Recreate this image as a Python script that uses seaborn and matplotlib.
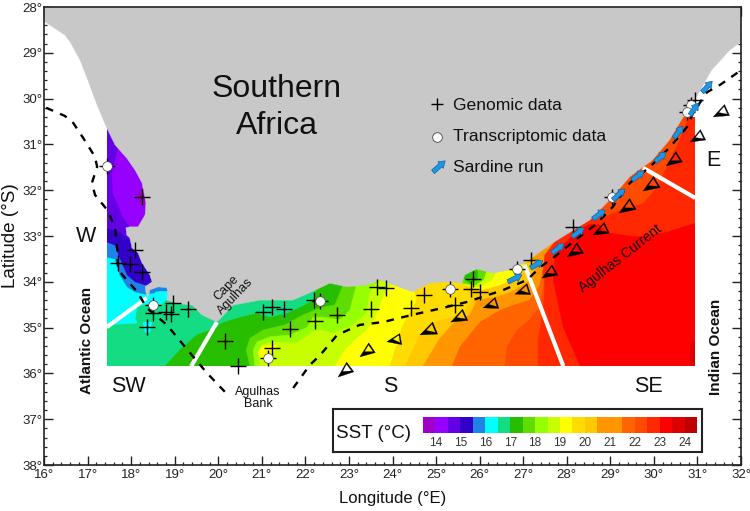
import numpy as np
import pandas as pd
import matplotlib
matplotlib.use("Agg")
import matplotlib.pyplot as plt
import seaborn as sns
from matplotlib.colors import ListedColormap
from matplotlib.patches import Polygon, PathPatch, Rectangle, FancyArrow
from matplotlib.path import Path
from matplotlib.ticker import MultipleLocator, FuncFormatter

SST_COLORS = ['#A000C8', '#9600FF', '#6400E6', '#3200C8', '#1E82E6', '#00FFFF', '#14DC82', '#28BE00',
              '#5FDC00', '#96FF00', '#C8FF00', '#FFFF00', '#FFDC00', '#FFC800', '#FF9600', '#F07800',
              '#FF6400', '#FF4B00', '#FF2800', '#FF0000', '#DC0000', '#BE0000']
SST_LOWER = [13.5, 14, 14.5, 15, 15.5, 16, 16.5, 17, 17.5, 18, 18.5, 19, 19.5, 20, 20.5, 21, 21.5, 22, 22.5, 23, 23.5, 24]
SST_LABELS = ['14', '15', '16', '17', '18', '19', '20', '21', '22', '23', '24']

FIELD_W, FIELD_E, FIELD_S, FIELD_N = 17.44, 30.95, 35.84, 30.4

COAST = [(16.00,28.31),(16.48,28.61),(16.60,28.76),(16.83,29.16),(16.99,29.55),(17.22,30.14),(17.45,30.66),
         (17.63,31.01),(17.90,31.30),(18.09,31.56),(18.25,31.84),(18.34,32.28),(18.32,32.54),(18.16,32.80),
         (17.97,32.80),(17.88,32.82),(17.90,32.98),(17.97,33.04),(18.02,33.26),(18.16,33.37),(18.25,33.59),
         (18.43,33.85),(18.48,34.00),(18.32,34.11),(18.34,34.24),(18.39,34.35),(18.43,34.18),(18.62,34.11),
         (18.82,34.13),(18.84,34.24),(18.82,34.40),(19.12,34.48),(19.40,34.51),(19.62,34.72),(19.97,34.88),
         (20.34,34.51),(20.96,34.40),(21.71,34.40),(22.10,34.24),(22.56,34.03),(22.95,34.11),(23.41,34.07),
         (23.71,33.96),(24.46,34.22),(24.85,34.03),(25.24,34.00),(25.59,34.03),(25.66,33.85),(25.93,33.72),
         (26.30,33.81),(26.69,33.74),(27.03,33.59),(27.19,33.48),(27.68,33.15),(28.53,32.65),(29.05,32.15),
         (29.44,31.71),(29.97,31.34),(30.36,30.90),(30.66,30.42),(30.98,29.96),(31.32,29.38),(31.74,28.94),
         (32.00,28.76),(32.00,28.00),(16.00,28.00)]

# closed SST patches: (band index, outline)
WEST_PATCHES = [
    (5, [(17.44,34.94),(18.14,34.90),(18.09,34.79),(18.14,34.55),(18.36,34.48),(18.59,34.57),(18.73,34.46),
         (18.89,34.33),(18.89,34.07),(18.4,33.1),(17.44,33.1)]),
    (5, [(18.27,34.88),(18.48,34.88),(18.43,35.10),(18.32,35.10)]),
    (4, [(17.44,33.46),(17.63,33.50),(17.74,33.85),(17.91,34.11),(18.09,34.22),(18.32,34.27),(18.55,34.24),
         (18.43,33.09),(17.44,33.09)]),
    (4, [(18.43,34.09),(18.89,34.09),(18.89,34.20),(18.66,34.20),(18.43,34.22)]),
    (3, [(17.44,33.13),(17.63,33.20),(17.74,33.48),(17.91,33.85),(18.09,34.00),(18.32,34.07),(18.66,34.07),
         (18.66,32.76),(17.44,32.82)]),
    (2, [(17.44,32.82),(17.74,32.91),(17.97,33.09),(18.20,33.41),(18.48,33.74),(18.78,33.74),(18.78,30.47),(17.44,30.47)]),
    (1, [(17.68,30.97),(17.70,31.08),(17.56,31.62),(17.58,32.06),(17.81,32.58),(17.97,32.80),(18.43,32.80),(18.43,31.34),(17.86,30.97)]),
    (0, [(18.25,31.95),(18.14,32.10),(18.18,32.28),(18.34,32.37),(18.39,32.00)]),
]

# band limits running from the southern edge to the coast; each band fills the sea east of its limit
LIMIT_8 = [(18.78,35.84),(19.12,35.49),(19.51,35.16),(19.97,34.99),(20.15,34.83),(20.96,34.30)]
TEAL_COAST = [(19.58,34.79),(19.58,35.12),(19.97,34.99),(20.04,34.90),(20.50,34.77),(20.89,34.68),(21.19,34.77),
              (21.58,34.68),(21.88,34.55),(22.18,34.40),(22.24,34.18),(21.65,34.18),(19.58,34.40)]
LIMIT_9 = [(20.73,35.84),(20.64,35.49),(20.73,35.23),(21.03,35.05),(21.53,34.94),(21.95,34.72),(22.34,34.57),
           (22.68,34.50),(22.79,34.24),(22.91,33.96)]
LIMIT_10 = [(20.84,35.84),(20.80,35.49),(20.89,35.31),(21.19,35.20),(21.65,35.16),(22.04,34.99),(22.18,34.77),
            (22.41,34.77),(22.79,34.83),(23.02,34.62),(23.14,34.18),(23.18,34.00)]
LIMIT_11 = [(20.96,35.84),(20.91,35.55),(21.03,35.38),(21.23,35.31),(21.81,35.33),(22.18,35.09),(22.34,35.05),
            (22.63,35.12),(23.02,34.99),(23.41,34.68),(23.48,34.24),(23.64,34.03)]
LIMIT_12 = [(22.68,35.84),(22.91,35.49),(23.14,35.27),(23.37,35.09),(23.60,34.79),(23.78,34.35),(23.99,34.05)]
BLOB_12 = [(21.00,35.40),(20.91,35.55),(21.00,35.71),(21.23,35.62),(21.35,35.38)]
LIMIT_13 = [(23.94,35.84),(24.24,34.94),(24.56,34.40),(24.46,34.07)]
LIMIT_14 = [(24.29,35.84),(24.63,35.16),(24.98,34.88),(25.32,34.79),(25.67,34.62),(25.85,34.29),(25.78,33.96)]
LIMIT_15 = [(24.70,35.84),(25.09,35.23),(25.43,34.88),(25.78,34.72),(25.94,34.40),(26.08,34.13),(26.24,33.96),(26.47,33.52)]
COAST_COOL = [
    (13, [(25.59,34.03),(25.89,34.40),(26.35,34.33),(26.81,34.18),(27.15,33.96),(27.33,33.57),(25.59,33.57)]),
    (11, [(25.66,34.07),(26.01,34.18),(26.47,34.07),(26.81,33.92),(27.03,33.70),(26.92,33.41),(25.66,33.41)]),
    (10, [(25.62,34.07),(26.01,34.11),(26.28,33.96),(26.40,33.74),(26.24,33.52),(25.62,33.57)]),
    (8, [(25.62,34.03),(25.89,34.07),(26.08,33.96),(26.17,33.74),(25.89,33.57),(25.62,33.70)]),
    (7, [(25.62,33.92),(25.78,34.03),(25.94,33.96),(25.96,33.79),(25.78,33.63),(25.62,33.74)]),
]
LIMIT_17 = [(25.37,35.84),(25.55,35.42),(26.01,34.88),(26.47,34.62),(26.81,34.50),(27.15,34.40),(27.38,34.07),(27.50,33.52),(27.84,33.09)]
LIMIT_18 = [(26.58,35.84),(26.63,35.42),(26.86,35.05),(27.15,34.83),(27.38,34.55),(27.45,34.18),(27.57,33.74),(27.84,33.20)]
LIMIT_19 = [(27.34,35.84),(27.34,35.27),(27.45,34.68),(27.50,34.11),(27.45,33.81),(27.50,33.41)]
RED_AREA = [(28.31,35.84),(27.92,34.99),(27.69,33.96),(27.73,33.41),(28.19,32.91),(28.53,32.74),(28.76,32.76),
            (28.92,32.93),(29.61,33.02),(30.25,32.93),(30.95,32.72),(30.95,35.84)]
DARK_RED_AREA = [(30.83,35.84),(30.85,35.38),(30.95,35.27),(30.95,35.84)]
WARM_POCKET = [(28.69,32.65),(29.22,32.43),(29.75,32.28),(30.07,31.93),(30.60,30.86),(30.83,30.31),(30.83,30.03),(28.53,32.21)]

DIVIDERS = [((17.44,34.99),(18.36,34.35)), ((19.38,35.84),(19.97,34.88)), ((27.03,33.63),(27.92,35.84)), ((29.75,31.51),(30.95,32.17))]

GENOMIC_LON = [18.25,18.09,17.70,17.97,18.25,18.96,19.31,18.80,18.92,18.50,18.36,20.15,20.45,21.03,21.23,21.51,22.20,
               22.73,22.22,21.65,21.23,23.51,23.65,23.85,24.43,24.72,25.43,25.80,25.85,26.01,27.19,28.14,30.95]
GENOMIC_LAT = [32.15,33.30,33.59,33.61,33.79,34.46,34.59,34.66,34.70,34.68,34.99,35.29,35.84,34.66,34.55,34.59,34.40,
               34.72,34.85,35.03,35.44,34.59,34.11,34.13,34.57,34.29,34.50,34.16,33.94,34.22,33.52,32.80,30.03]
TRANS_LON = [17.45,18.50,21.14,22.33,25.31,26.86,29.05,30.85,30.76]
TRANS_LAT = [31.47,34.51,35.66,34.42,34.16,33.72,32.15,30.14,30.29]

ROUTE_W_LON = [16.05,16.48,16.67,16.90,17.17,17.22,17.10,17.17,17.45,17.63,17.68,17.70,18.14,18.36,18.82,19.35,19.74,20.15]
ROUTE_W_LAT = [30.20,30.38,30.53,30.86,31.27,31.49,31.84,32.10,32.43,32.80,33.24,33.74,34.22,34.57,34.94,35.55,35.99,36.40]
ROUTE_E_LON = [21.72,22.10,22.34,22.73,23.25,23.78,24.46,25.16,25.71,26.54,27.09,27.39,27.78,28.14,28.65,29.05,29.45,29.91,30.37,30.76,30.90,31.22,31.52,32.00]
ROUTE_E_LAT = [36.32,35.82,35.60,35.16,34.94,34.88,34.72,34.57,34.44,34.18,33.96,33.68,33.41,33.13,32.76,32.37,31.84,31.49,31.06,30.62,30.31,29.86,29.70,29.38]

CURRENT_TIP = [(22.75,36.08),(23.25,35.64),(23.87,35.31),(24.63,35.16),(25.34,34.88),(26.08,34.57),(26.81,34.27),(27.43,33.92),
               (28.01,33.46),(28.60,32.98),(29.20,32.50),(29.75,32.02),(30.28,31.47),(30.83,30.95),(31.36,30.40)]
CURRENT_TAIL = [(23.03,35.86),(23.53,35.44),(24.19,35.25),(24.98,35.01),(25.67,34.72),(26.40,34.46),(27.13,34.16),(27.73,33.74),
                (28.31,33.26),(28.92,32.82),(29.52,32.30),(30.07,31.82),(30.58,31.27),(31.13,30.79),(31.68,30.25)]
SARDINE_FROM = [(26.65,34.00),(27.17,33.70),(27.66,33.37),(28.12,33.02),(28.60,32.63),(29.06,32.21),(29.50,31.78),(30.03,31.38),(30.46,30.86),(30.83,30.36),(31.11,29.86)]
SARDINE_TO = [(26.97,33.85),(27.45,33.54),(27.94,33.17),(28.40,32.82),(28.88,32.43),(29.34,31.97),(29.78,31.58),(30.28,31.17),(30.67,30.60),(31.02,30.10),(31.34,29.62)]

KEY_CROSS = (25.02, 30.12)
KEY_CIRCLE = (25.02, 30.84)
KEY_ARROW = ((24.93, 31.60), (25.21, 31.36))

sns.set_style("ticks")
plt.rcParams['font.family'] = ['Liberation Sans', 'DejaVu Sans']
W, H = 750, 511
fig = plt.figure(figsize=(W / 100, H / 100), dpi=100)
ax = fig.add_axes([44 / W, 1 - 465 / H, 697 / W, 458 / H])
ax.set_xlim(16, 32)
ax.set_ylim(38, 28)

clip = Rectangle((FIELD_W, FIELD_N), FIELD_E - FIELD_W, FIELD_S - FIELD_N, transform=ax.transData)


def band(idx, pts, z=1):
    p = Polygon(pts, closed=True, fc=SST_COLORS[idx], ec=SST_COLORS[idx], lw=0.3, zorder=z)
    ax.add_patch(p)
    p.set_clip_path(clip)


def east_of(idx, limit):
    band(idx, list(limit) + [(31.0, 29.0), (31.0, FIELD_S)])


band(6, [(FIELD_W, FIELD_N), (FIELD_E, FIELD_N), (FIELD_E, FIELD_S), (FIELD_W, FIELD_S)])
for idx, pts in WEST_PATCHES:
    band(idx, pts)
east_of(7, LIMIT_8)
band(6, TEAL_COAST)
east_of(8, LIMIT_9)
east_of(9, LIMIT_10)
east_of(10, LIMIT_11)
east_of(11, LIMIT_12)
band(11, BLOB_12)
east_of(12, LIMIT_13)
east_of(13, LIMIT_14)
east_of(14, LIMIT_15)
for idx, pts in COAST_COOL:
    band(idx, pts)
east_of(16, LIMIT_17)
east_of(17, LIMIT_18)
east_of(18, LIMIT_19)
band(19, RED_AREA)
band(20, DARK_RED_AREA)
band(17, WARM_POCKET)

for a, b in DIVIDERS:
    ax.plot([a[0], b[0]], [a[1], b[1]], color='white', lw=3.0, solid_capstyle='butt', zorder=2)

ax.add_patch(Polygon(COAST, closed=True, fc='#C8C8C8', ec='#C8C8C8', lw=0.3, zorder=3))

# current route
for lons, lats in ((ROUTE_W_LON, ROUTE_W_LAT), (ROUTE_E_LON, ROUTE_E_LAT)):
    sns.lineplot(x=lons, y=lats, sort=False, estimator=None, color='black', lw=1.7,
                 linestyle=(0, (3.2, 3.2)), ax=ax, zorder=4, legend=False)
ax.set_xlim(16, 32)
ax.set_ylim(38, 28)


def signed_area(p, q, r):
    return (q[0] - p[0]) * (r[1] - p[1]) - (q[1] - p[1]) * (r[0] - p[0])


def open_arrow(tip, tail):
    t = np.array(tip)
    c = np.array(tail)
    d = t - c
    n = np.array([-d[1], d[0]]) * 0.38
    a, b = c + n, c - n
    if a[1] > b[1]:
        a, b = b, a  # a = northern corner
    inner = [0.84 * a + 0.08 * b + 0.08 * t, 0.34 * a + 0.10 * b + 0.56 * t, 0.14 * a + 0.78 * b + 0.08 * t]
    if np.sign(signed_area(t, a, b)) == np.sign(signed_area(*inner)):
        inner = inner[::-1]
    verts = [t, a, b, t] + inner + [inner[0]]
    codes = [Path.MOVETO, Path.LINETO, Path.LINETO, Path.CLOSEPOLY, Path.MOVETO, Path.LINETO, Path.LINETO, Path.CLOSEPOLY]
    ax.add_patch(PathPatch(Path(verts, codes), fc='black', ec='black', lw=0.2, zorder=5))


for tip, tail in zip(CURRENT_TIP, CURRENT_TAIL):
    open_arrow(tip, tail)


def blue_arrow(a, b):
    ax.add_patch(FancyArrow(a[0], a[1], b[0] - a[0], b[1] - a[1], width=0.10, head_width=0.19, head_length=0.14,
                            length_includes_head=True, fc='#1E96E6', ec='#1464A0', lw=0.5, zorder=7))


for a, b in zip(SARDINE_FROM, SARDINE_TO):
    blue_arrow(a, b)
blue_arrow(*KEY_ARROW)

# sampling sites
sites = pd.DataFrame({'lon': GENOMIC_LON + TRANS_LON, 'lat': GENOMIC_LAT + TRANS_LAT})
sns.scatterplot(data=sites, x='lon', y='lat', marker='+', s=125, color='black', linewidth=1.0, ax=ax, zorder=6, legend=False)
sns.scatterplot(x=TRANS_LON, y=TRANS_LAT, marker='o', s=48, color='white', edgecolor='#444444', linewidth=0.5, ax=ax, zorder=6.5, legend=False)
sns.scatterplot(x=[KEY_CROSS[0]], y=[KEY_CROSS[1]], marker='+', s=80, color='black', linewidth=1.0, ax=ax, zorder=6, legend=False)
sns.scatterplot(x=[KEY_CIRCLE[0]], y=[KEY_CIRCLE[1]], marker='o', s=48, color='white', edgecolor='#444444', linewidth=0.6, ax=ax, zorder=6.5, legend=False)

# axes frame
ax.xaxis.set_major_locator(MultipleLocator(1))
ax.yaxis.set_major_locator(MultipleLocator(1))
ax.xaxis.set_minor_locator(MultipleLocator(0.2))
ax.yaxis.set_minor_locator(MultipleLocator(0.2))
deg = FuncFormatter(lambda v, _: f"{int(round(v))}°")
ax.xaxis.set_major_formatter(deg)
ax.yaxis.set_major_formatter(deg)
ax.tick_params(which='major', direction='in', length=6.2, width=1.0, top=True, right=True, labelsize=9.5, pad=3, color='#222222', labelcolor='#222222')
ax.tick_params(which='minor', direction='in', length=2.5, width=0.9, top=True, right=True, color='#222222')
ax.tick_params(axis='y', which='major', pad=1)
for s in ax.spines.values():
    s.set_visible(True)
    s.set_linewidth(1.2)
    s.set_color('#222222')
    s.set_zorder(20)
ax.set_xlabel('')
ax.set_ylabel('')


def label(x, y, s, size, **kw):
    kw.setdefault('ha', 'center')
    kw.setdefault('va', 'center')
    kw.setdefault('color', '#111111')
    fig.text(x / W, 1 - y / H, s, fontsize=size, zorder=30, **kw)


label(393, 498, 'Longitude (°E)', 12)
label(11, 236, 'Latitude (°S)', 13.6, rotation=90)
label(277, 107.5, 'Southern\nAfrica', 23, linespacing=1.3)
label(453, 105, 'Genomic data', 12.6, ha='left')
label(453, 137, 'Transcriptomic data', 12.6, ha='left')
label(453, 168, 'Sardine run', 12.6, ha='left')
label(86, 236, 'W', 15.5)
label(128, 386, 'SW', 15.5)
label(390, 386, 'S', 15.5)
label(648, 386, 'SE', 15.5)
label(713, 160, 'E', 15.5)
label(87, 340, 'Atlantic Ocean', 11, rotation=90, fontweight='bold')
label(716, 347, 'Indian Ocean', 11, rotation=90, fontweight='bold')
label(231, 292, 'Cape\nAgulhas', 9, rotation=46, rotation_mode='anchor', linespacing=1.0)
label(258, 398, 'Agulhas\nBank', 9, linespacing=1.0)
label(620, 258, 'Agulhas Current', 10, rotation=38, rotation_mode='anchor')

# SST key box
box = fig.add_axes([333 / W, 1 - 452 / H, 369 / W, 43 / H], zorder=10)
box.set_xticks([])
box.set_yticks([])
for s in box.spines.values():
    s.set_visible(True)
    s.set_linewidth(1.5)
    s.set_color('#222222')
label(374, 433, 'SST (°C)', 13.5)

cax = fig.add_axes([423 / W, 1 - 433 / H, 274 / W, 16 / H], zorder=11)
sns.heatmap(np.array([SST_LOWER]), cmap=ListedColormap(SST_COLORS), vmin=13.5, vmax=24.5, cbar=False, ax=cax, linewidths=0)
cax.set_yticks([])
cax.set_xticks(np.arange(1, 22, 2))
cax.set_xticklabels(SST_LABELS, rotation=0, fontsize=8.5, color='#333333')
cax.tick_params(axis='x', length=0, pad=3)

fig.savefig('out.png', dpi=100)
